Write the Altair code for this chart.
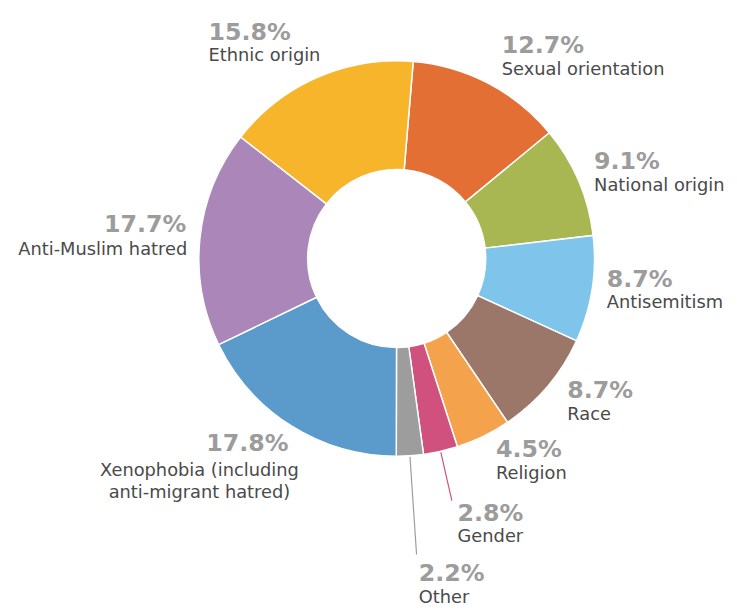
import math
import altair as alt
import pandas as pd

# ---- data ----
categories = ["Sexual orientation", "National origin", "Antisemitism", "Race", "Religion",
              "Gender", "Other", "Xenophobia (including anti-migrant hatred)",
              "Anti-Muslim hatred", "Ethnic origin"]
values = [12.7, 9.1, 8.7, 8.7, 4.5, 2.8, 2.2, 17.8, 17.7, 15.8]
names = ["Sexual orientation", "National origin", "Antisemitism", "Race", "Religion",
         "Gender", "Other", "Xenophobia (including\nanti-migrant hatred)",
         "Anti-Muslim hatred", "Ethnic origin"]
colors = ["#E36F35", "#A8B752", "#7FC4EA", "#9B776A", "#F4A34C",
          "#D0507E", "#9D9D9D", "#5A9BCB", "#AA87B8", "#F7B52C"]

# ---- layout (code side) ----
W, H = 600, 500
CX, CY = W / 2, H / 2
OFF = math.radians(4.8)
R_IN, R_OUT = 90, 200
label_r = {"Sexual orientation": 229, "National origin": 217, "Antisemitism": 215,
           "Race": 226, "Religion": 229, "Gender": 277, "Other": 332}
leader_r2 = {"Gender": 251, "Other": 300}
right_side = ["Sexual orientation", "National origin", "Antisemitism", "Race",
              "Religion", "Gender", "Other"]

df = pd.DataFrame({
    "category": categories,
    "value": values,
    "name": names,
    "ord": list(range(len(categories))),
    "pct": [f"{v}%" for v in values],
    "lr": [label_r.get(c, 215) for c in categories],
    "r2": [leader_r2.get(c, 0) for c in categories],
})

base = (
    alt.Chart(df)
    .transform_joinaggregate(total="sum(value)")
    .transform_window(cum="sum(value)", sort=[alt.SortField("ord")], frame=[None, 0])
    .transform_calculate(
        a=f"{OFF} + 2*PI*(datum.cum - datum.value/2)/datum.total",
    )
    .transform_calculate(
        lx=f"{CX} + datum.lr*sin(datum.a)",
        ly=f"{CY} - datum.lr*cos(datum.a)",
        x1=f"{CX} + {R_OUT + 1}*sin(datum.a)",
        y1=f"{CY} - {R_OUT + 1}*cos(datum.a)",
        x2=f"{CX} + datum.r2*sin(datum.a)",
        y2=f"{CY} - datum.r2*cos(datum.a)",
    )
)

color_scale = alt.Scale(domain=categories, range=colors)

arcs = alt.Chart(df).mark_arc(innerRadius=R_IN, outerRadius=R_OUT, stroke="white",
                              strokeWidth=1.5).encode(
    theta=alt.Theta("value:Q", stack=True,
                    scale=alt.Scale(range=[OFF, OFF + 2 * math.pi])),
    color=alt.Color("category:N", scale=color_scale, legend=None),
    order=alt.Order("ord:Q"),
)

xy = dict(x=alt.X("lx:Q", scale=None), y=alt.Y("ly:Q", scale=None))

PCT = dict(font="DejaVu Sans", fontSize=24, fontWeight="bold", color="#9c9c9c")
NAME = dict(font="DejaVu Sans", fontSize=18, color="#4a4a4a")

leaders = base.transform_filter("datum.r2 > 0").mark_rule(strokeWidth=1.2).encode(
    x=alt.X("x1:Q", scale=None), y=alt.Y("y1:Q", scale=None),
    x2="x2:Q", y2="y2:Q",
    color=alt.Color("category:N", scale=color_scale, legend=None),
)

rs = base.transform_filter(alt.FieldOneOfPredicate(field="category", oneOf=right_side))
r_pct = rs.mark_text(align="left", baseline="middle", dy=-12, **PCT).encode(text="pct:N", **xy)
r_name = rs.mark_text(align="left", baseline="middle", dy=12, **NAME).encode(text="name:N", **xy)

am = base.transform_filter("datum.category == 'Anti-Muslim hatred'")
am_pct = am.mark_text(align="right", baseline="middle", dx=1, dy=-11, **PCT).encode(text="pct:N", **xy)
am_name = am.mark_text(align="right", baseline="middle", dx=2, dy=14, **NAME).encode(text="name:N", **xy)

xe = base.transform_filter("datum.category == 'Xenophobia (including anti-migrant hatred)'")
xe_pct = xe.mark_text(align="right", baseline="middle", dx=5, dy=6, **PCT).encode(text="pct:N", **xy)
xe_name = xe.mark_text(align="center", baseline="top", dx=-85, dy=24, lineBreak="\n",
                       lineHeight=22, **NAME).encode(text="name:N", **xy)

et = base.transform_filter("datum.category == 'Ethnic origin'")
et_pct = et.mark_text(align="left", baseline="middle", dx=-104, dy=-31, **PCT).encode(text="pct:N", **xy)
et_name = et.mark_text(align="left", baseline="middle", dx=-104, dy=-8, **NAME).encode(text="name:N", **xy)

chart = alt.layer(
    arcs, leaders, r_pct, r_name, am_pct, am_name, xe_pct, xe_name, et_pct, et_name
).properties(
    width=W, height=H,
    background="white",
    autosize=alt.AutoSizeParams(type="none"),
    padding={"left": 93, "top": 0, "right": 36, "bottom": 99},
).configure_view(strokeWidth=0, stroke=None)

chart.save("out.html", embed_options={"renderer": "svg", "actions": False})
